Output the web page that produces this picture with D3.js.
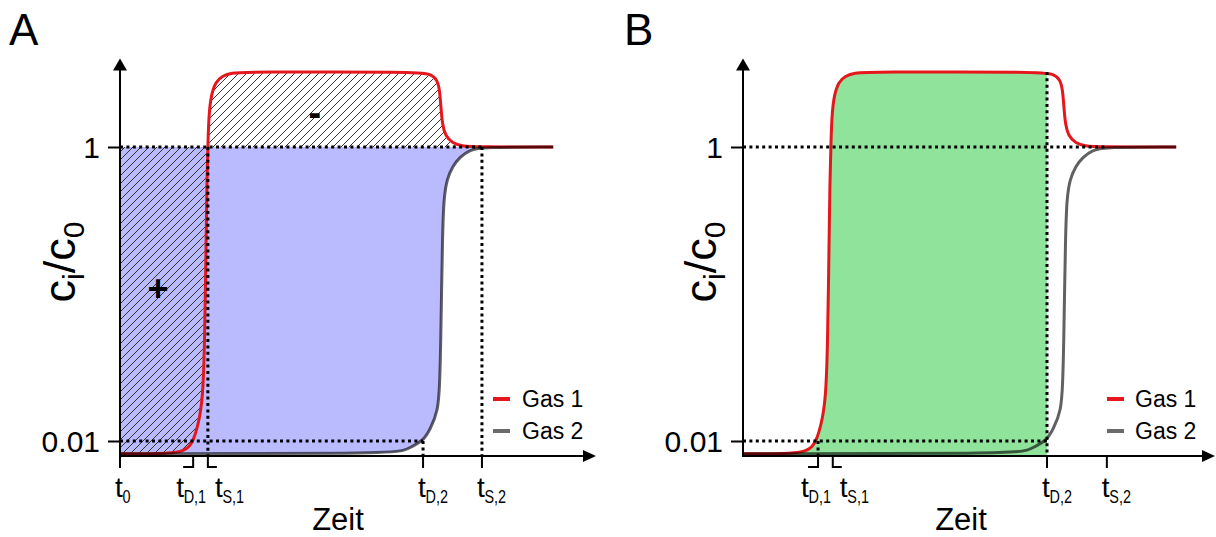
<!DOCTYPE html>
<html>
<head>
<meta charset="utf-8">
<script src="https://cdn.jsdelivr.net/npm/d3@7"></script>
<style>
  body { margin: 0; background: #fff; }
  svg text { font-family: "Liberation Sans", Arial, sans-serif; fill: #000; }
</style>
</head>
<body>
<div id="chart"></div>
<script>
// Durchbruchskurven (schematisch), Panel A und B
// t: Zeit in beliebigen Einheiten, c: c_i/c_0 (log-Achse)

var redT = [0, 11.0, 13.5, 14.6, 15.4, 16.5, 17.4, 17.8, 18.1, 18.3, 18.5, 18.7, 19.2, 20.1, 21.5, 23.5, 26.5,
            62.5, 65.5, 66.8, 67.3, 67.6, 67.9, 68.5, 70.0, 72.0, 74.7, 91.2];
var redC = [0.0082, 0.0082, 0.0086, 0.0092, 0.01, 0.013, 0.019, 0.042, 0.2, 0.6, 1, 1.65, 2.26, 2.77, 3.04, 3.19, 3.24,
            3.24, 3.14, 2.86, 2.44, 1.79, 1.41, 1.19, 1.06, 1.016, 1, 1];

var greyT = [0, 56.0, 60.0, 61.5, 63.8, 65.3, 67.0, 67.3, 67.5, 67.9, 68.2, 68.8, 70.0, 71.6, 73.5, 76.2, 91.2];
var greyC = [0.0082, 0.0082, 0.0086, 0.0092, 0.01, 0.012, 0.016, 0.025, 0.04, 0.27, 0.45, 0.6, 0.74, 0.855, 0.95, 1, 1];

var yTicks = [0.01, 1];
var yTickLabels = ["0.01", "1"];

var tickTimesA = [0, 15.4, 18.5, 63.8, 76.2];
var tickSubsA = ["0", "D,1", "S,1", "D,2", "S,2"];
var tickTimesB = [15.8, 18.9, 64.0, 76.6];
var tickSubsB = ["D,1", "S,1", "D,2", "S,2"];

var legendLabels = ["Gas 1", "Gas 2"];

var red = redT.map(function (t, i) { return { t: t, c: redC[i] }; });
var grey = greyT.map(function (t, i) { return { t: t, c: greyC[i] }; });

var width = 1216, height = 537;
var axisC = 0.0079, topC = 4.0;   // x-axis level and arrow tip

var svg = d3.select("#chart").append("svg")
    .attr("width", width)
    .attr("height", height);

var defs = svg.append("defs");
defs.append("pattern")
    .attr("id", "hatch")
    .attr("patternUnits", "userSpaceOnUse")
    .attr("width", 8).attr("height", 8)
    .append("path")
    .attr("d", "M-2,2 l4,-4 M0,8 l8,-8 M6,10 l4,-4")
    .attr("stroke", "#333")
    .attr("stroke-width", 1);

// shared y scale (log)
var y = d3.scaleLog().domain([0.01, 1]).range([441, 147]);
var axisY = y(axisC);
var smooth = d3.curveBasis;

function drawPanel(p) {
    var x = d3.scaleLinear().domain([0, 100]).range([p.x0, p.x0 + 475]);
    var g = svg.append("g");

    var line = d3.line()
        .x(function (d) { return x(d.t); })
        .y(function (d) { return y(d.c); })
        .curve(smooth);

    if (p.name === "A") {
        // gas 2 deficit, blue
        g.append("path")
            .datum(grey)
            .attr("d", d3.area()
                .x(function (d) { return x(d.t); })
                .y0(y(1))
                .y1(function (d) { return y(d.c); })
                .curve(smooth))
            .attr("fill", "#babaff");
        // gas 1 deviation from 1, hatched
        g.append("path")
            .datum(red)
            .attr("d", d3.area()
                .x(function (d) { return x(d.t); })
                .y0(y(1))
                .y1(function (d) { return y(d.c); })
                .curve(smooth))
            .attr("fill", "url(#hatch)");
    } else {
        defs.append("clipPath").attr("id", "clipB")
            .append("rect")
            .attr("x", x(0)).attr("y", 0)
            .attr("width", x(p.ticks[2]) - x(0)).attr("height", height);
        g.append("path")
            .datum(red)
            .attr("clip-path", "url(#clipB)")
            .attr("d", d3.area()
                .x(function (d) { return x(d.t); })
                .y0(axisY)
                .y1(function (d) { return y(d.c); })
                .curve(smooth))
            .attr("fill", "#8fe39b");
    }

    // curves
    g.append("path").datum(red)
        .attr("d", line)
        .attr("fill", "none")
        .attr("stroke", "#e5171c")
        .attr("stroke-width", 3);
    g.append("path").datum(grey)
        .attr("d", line)
        .attr("fill", "none")
        .attr("stroke", "#000")
        .attr("stroke-opacity", 0.62)
        .attr("stroke-width", 3);

    // dotted guides
    var dots = g.append("g")
        .attr("stroke", "#000")
        .attr("stroke-width", 3)
        .attr("stroke-dasharray", "3,3.4");
    p.hLines.forEach(function (h) {
        dots.append("line")
            .attr("x1", x(0)).attr("x2", x(h[1]))
            .attr("y1", y(h[0])).attr("y2", y(h[0]));
    });
    p.vLines.forEach(function (v) {
        dots.append("line")
            .attr("x1", x(v[0])).attr("x2", x(v[0]))
            .attr("y1", y(v[1])).attr("y2", axisY);
    });

    // axes with arrows
    var x0 = x(0), yTop = y(topC), xEnd = p.xEnd;
    g.append("line")
        .attr("x1", x0).attr("x2", x0)
        .attr("y1", axisY + 1).attr("y2", yTop + 8)
        .attr("stroke", "#000").attr("stroke-width", 2);
    g.append("path")
        .attr("d", "M" + x0 + "," + yTop + " l-7,12 h14 z")
        .attr("fill", "#000");
    g.append("line")
        .attr("x1", x0 - 1).attr("x2", xEnd - 8)
        .attr("y1", axisY).attr("y2", axisY)
        .attr("stroke", "#000").attr("stroke-width", 2);
    g.append("path")
        .attr("d", "M" + xEnd + "," + axisY + " l-13,-6 v12 z")
        .attr("fill", "#000");

    // y ticks
    var yAxis = g.append("g")
        .attr("transform", "translate(" + x0 + ",0)")
        .call(d3.axisLeft(y)
            .tickValues(yTicks)
            .tickFormat(function (d, i) { return yTickLabels[i]; })
            .tickSize(12)
            .tickPadding(8));
    yAxis.select(".domain").remove();
    yAxis.selectAll("line").attr("stroke-width", 2);
    yAxis.selectAll("text")
        .style("font-size", "30px")
        .style("font-family", "'Liberation Sans', Arial, sans-serif")
        .attr("dy", "0.36em");

    // x ticks: t labels with brackets
    p.ticks.forEach(function (t, i) {
        var sub = p.subs[i], tx = x(t), d, lx;
        if (sub === "D,1") {
            d = "M" + tx + "," + axisY + " V" + (axisY + 11) + " h-10";
            lx = tx - 17;
        } else if (sub === "S,1") {
            d = "M" + tx + "," + axisY + " V" + (axisY + 11) + " h9";
            lx = tx + 7;
        } else {
            d = "M" + tx + "," + axisY + " V" + (axisY + 12);
            lx = tx - 5;
        }
        g.append("path").attr("d", d)
            .attr("fill", "none").attr("stroke", "#000").attr("stroke-width", 2);
        g.append("text")
            .attr("x", lx).attr("y", 497)
            .style("font-size", "28px")
            .text("t");
        g.append("text")
            .attr("transform", "translate(" + (lx + 7.5) + ",503) scale(0.76,1)")
            .style("font-size", "19px")
            .text(sub);
    });

    // axis titles
    g.append("text")
        .attr("x", x0 + 218).attr("y", 530)
        .attr("text-anchor", "middle")
        .style("font-size", "31px")
        .text("Zeit");

    var yl = g.append("text")
        .attr("transform", "translate(" + p.yLabelX + ",262) rotate(-90)")
        .attr("text-anchor", "middle")
        .style("font-size", "45px");
    yl.append("tspan").text("c");
    yl.append("tspan").attr("dy", 9).style("font-size", "30px").text("i");
    yl.append("tspan").attr("dy", -9).text("/c");
    yl.append("tspan").attr("dy", 9).style("font-size", "30px").text("0");

    // panel letter
    g.append("text")
        .attr("x", p.letterX).attr("y", 45)
        .style("font-size", "44px")
        .text(p.name);

    // legend
    var lg = g.append("g").attr("transform", "translate(" + p.legendX + ",399)");
    legendLabels.forEach(function (lab, i) {
        lg.append("line")
            .attr("x1", 0).attr("x2", 17)
            .attr("y1", i * 32).attr("y2", i * 32)
            .attr("stroke", i === 0 ? "#e5171c" : "#6a6a6a")
            .attr("stroke-width", 4);
        lg.append("text")
            .attr("x", p.legendGap).attr("y", i * 32 + 8)
            .style("font-size", "23px")
            .text(lab);
    });

    return x;
}

// Panel A
var xA = drawPanel({
    name: "A", x0: 120, xEnd: 596, letterX: 9, yLabelX: 75, legendX: 493, legendGap: 29,
    ticks: tickTimesA, subs: tickSubsA,
    hLines: [[1, tickTimesA[4]], [0.01, tickTimesA[3]]],
    vLines: [[tickTimesA[2], 1], [tickTimesA[3], 0.01], [tickTimesA[4], 1]]
});
svg.append("text")
    .attr("x", xA(8)).attr("y", y(0.11))
    .attr("text-anchor", "middle").attr("dy", "0.35em")
    .style("font-size", "36px").style("font-weight", "bold")
    .text("+");
svg.append("text")
    .attr("x", xA(41)).attr("y", y(1.7))
    .attr("text-anchor", "middle").attr("dy", "0.35em")
    .style("font-size", "38px").style("font-weight", "bold")
    .text("-");

// Panel B
drawPanel({
    name: "B", x0: 743, xEnd: 1215, letterX: 624, yLabelX: 716, legendX: 1107, legendGap: 28,
    ticks: tickTimesB, subs: tickSubsB,
    hLines: [[1, tickTimesB[3]], [0.01, tickTimesB[2]]],
    vLines: [[tickTimesB[0], 0.01], [tickTimesB[2], 3.24]]
});
</script>
</body>
</html>
